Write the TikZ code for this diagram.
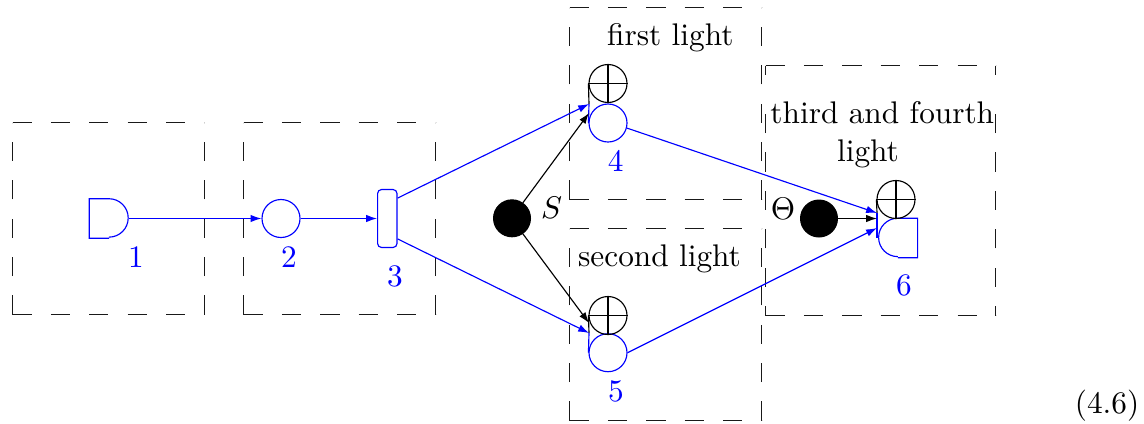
\documentclass[tikz,border=0pt]{standalone}
\usepackage{amsmath,amssymb}
\usepackage{xcolor}
\usetikzlibrary{arrows.meta, positioning, shapes.geometric, calc}
\newcommand{\lightbox}[4]{%
  \draw[dashline] (#1,#4)--(#1,#2);
  \draw[dashline] (#1,#4)--(#3,#4);
  \draw[dashline] (#3,#4)--(#3,#2);
  \draw[dashline] (#1,#2)--(#3,#2);
}
\begin{document}
\begin{tikzpicture}[
  x=0.35pt, y=-0.35pt,
  every node/.style={font=\fontsize{10.95}{14}\selectfont},
  dashline/.style={thin, black!90, dash pattern=on 6.72pt off 6.72pt},
  halfdash/.style={dashline, dash phase=3.36pt},
  wire/.style={thin, black},
  bluewire/.style={thin, blue},
  arrow/.style={-{Latex[length=3.8pt,width=2.6pt]}, thin, black},
  bluearrow/.style={-{Latex[length=3.8pt,width=2.6pt]}, thin, blue},
  spot/.style={circle, draw=black, fill=black, inner sep=0pt, minimum size=12.9pt},
  ring/.style={circle, draw=blue, inner sep=0pt, minimum size=13.3pt},
  plusring/.style={circle, draw=black, inner sep=0pt, minimum size=13.3pt},
  gatebox/.style={rectangle, inner sep=0pt, minimum size=13.44pt},
  num/.style={text=blue, anchor=base},
  txt/.style={anchor=base}
]
\useasboundingbox (0,0) rectangle (1144,423);

% dashed boxes
\lightbox{12.5}{122.5}{204.5}{314.5}
\lightbox{243.5}{122.5}{435.5}{314.5}
\lightbox{569.5}{7.5}{761.5}{199.5}
\lightbox{569.5}{228.5}{761.5}{420.5}
\draw[dashline] (765.5,65.5)--(995.9,65.5);
\draw[dashline] (765.5,315.5)--(995.9,315.5);
\draw[halfdash] (765.5,315.5)--(765.5,113);
\draw[halfdash] (995.5,315.5)--(995.5,113);
\draw[dashline] (765.5,65.5)--(765.5,75);
\draw[dashline] (995.5,65.5)--(995.5,75);

% components
\node[gatebox] (src) at (109,218.5) {};
\draw[bluewire] (src.south)--(src.south west)--(src.north west)--(src.north) arc[start angle=90, end angle=-90, radius=6.72pt];
\node[ring] (delay) at (281,218.5) {};
\node[rectangle, draw=blue, rounded corners=1.4pt, inner sep=0pt, minimum width=6.8pt, minimum height=20.3pt] (split) at (387.3,218.5) {};
\node[ring] (upper) at (608,123) {};
\node[plusring] (upperplus) at (608,83.5) {};
\node[ring] (lower) at (608,352.7) {};
\node[plusring] (lowerplus) at (608,315.5) {};
\node[gatebox] (det) at (897.8,238) {};
\draw[bluewire] (det.south)--(det.south east)--(det.north east)--(det.north) arc[start angle=90, end angle=270, radius=6.72pt];
\node[plusring] (detplus) at (896,199.5) {};
\node[spot] (sig) at (512,218.3) {};
\node[spot] (phase) at (819,218.5) {};

% plus signs
\draw[wire] (upperplus.west)--(upperplus.east);
\draw[wire] (upperplus.north)--(upperplus.south);
\draw[wire] (lowerplus.west)--(lowerplus.east);
\draw[wire] (lowerplus.north)--(lowerplus.south);
\draw[wire] (detplus.west)--(detplus.east);
\draw[wire] (detplus.north)--(detplus.south);

% merging points
\coordinate (upperin) at (589,104);
\coordinate (uppersig) at (589,113);
\coordinate (lowerin) at (589,333);
\coordinate (lowersig) at (589,323);
\coordinate (detina) at (877,213);
\coordinate (detinb) at (877,228);
\coordinate (detphase) at (877,218.5);
\draw[wire] (upperplus.west)--(upperin);
\draw[bluewire] (upperin)--(upper.west);
\draw[wire] (lowerplus.west)--(lowerin);
\draw[bluewire] (lowerin)--(lower.west);
\draw[wire] (detplus.west)--(detina);
\draw[bluewire] (detina)--(detina|-det.west);

% light paths
\draw[bluearrow] (src.east)--(delay.west);
\draw[bluearrow] (delay.east)--(split.west);
\draw[bluearrow] ($(split.north east)!0.155!(split.south east)$)--(upperin);
\draw[bluearrow] ($(split.north east)!0.845!(split.south east)$)--(lowerin);
\draw[bluearrow] (upper.-15)--(detina);
\draw[bluearrow] (lower.east)--(detinb);
\draw[arrow] (sig.55)--(uppersig);
\draw[arrow] (sig.-55)--(lowersig);
\draw[arrow] (phase.east)--(detphase);

% labels
\node[num] (n1) at (136,267) {1};
\node[num] (n2) at (289,267) {2};
\node[num] (n3) at (395,286.7) {3};
\node[num] (n4) at (615.7,171.7) {4};
\node[num] (n5) at (616,401) {5};
\node[num] (n6) at (904,295) {6};
\node[txt] (s) at (551.7,218.3) {$S$};
\node[txt] (theta) at (783,219.3) {$\Theta$};
\node[txt] (first) at (670.3,45.7) {first light};
\node[txt] (second) at (659.5,266.7) {second light};
\node[txt] (third) at (882.3,123.3) {third and fourth};
\node[txt] (thirdb) at (868,161) {light};
\node[txt] (eqno) at (1107,413) {(4.6)};
\end{tikzpicture}
\end{document}
